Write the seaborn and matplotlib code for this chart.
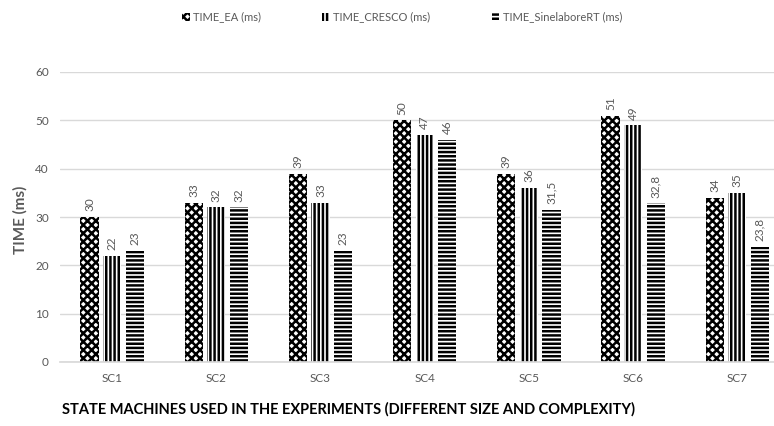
import matplotlib
matplotlib.use("Agg")
import matplotlib.pyplot as plt
from matplotlib.patches import Patch
import seaborn as sns
import pandas as pd

# Execution time per state machine for each code generator
categories = ["SC1", "SC2", "SC3", "SC4", "SC5", "SC6", "SC7"]
series_names = ["TIME_EA (ms)", "TIME_CRESCO (ms)", "TIME_SinelaboreRT (ms)"]
time_ea = [30, 33, 39, 50, 39, 51, 34]
time_cresco = [22, 32, 33, 47, 36, 49, 35]
time_sinelabore = [23, 32, 23, 46, 31.5, 32.8, 23.8]
y_ticks = [0, 10, 20, 30, 40, 50, 60]

sns.set_theme(style="white")
plt.rcParams["font.family"] = ["Lato", "DejaVu Sans"]
plt.rcParams["hatch.linewidth"] = 1.8

df = pd.DataFrame({
    "machine": categories * 3,
    "series": [s for s in series_names for _ in categories],
    "time": time_ea + time_cresco + time_sinelabore,
})

fig = plt.figure(figsize=(7.74, 4.26), dpi=100)
ax = fig.add_axes([60 / 774, 64 / 426, 714 / 774, 290 / 426])

palette = {s: "white" for s in series_names}
sns.barplot(data=df, x="machine", y="time", hue="series", hue_order=series_names,
            palette=palette, width=0.65, gap=0.19, edgecolor="black",
            linewidth=0, legend=False, ax=ax)

hatches = ["xxxx", "||||", "----"]
for container, hatch in zip(ax.containers, hatches):
    for bar in container:
        bar.set_hatch(hatch)
        bar.set_edgecolor("black")
        bar.set_linewidth(0)

def fmt(v):
    return f"{v:g}".replace(".", ",")

for container, vals in zip(ax.containers, [time_ea, time_cresco, time_sinelabore]):
    ax.bar_label(container, labels=[fmt(v) for v in vals], rotation=90,
                 padding=4, color="#595959", fontsize=8.5)

ax.set_ylim(0, 60)
ax.set_xlim(-0.5, -0.5 + 714 / 104.2)
ax.set_yticks(y_ticks)
ax.yaxis.grid(True, color="#d9d9d9", linewidth=1)
ax.set_axisbelow(True)
for side in ["top", "right", "left"]:
    ax.spines[side].set_visible(False)
ax.spines["bottom"].set_color("#d9d9d9")
ax.tick_params(axis="both", length=0, colors="#595959", labelsize=8.5)
ax.tick_params(axis="x", pad=8)
ax.tick_params(axis="y", pad=8)
ax.set_xlabel("")
ax.set_ylabel("")

fig.text(20 / 774, 1 - 220 / 426, "TIME (ms)", rotation=90, ha="center", va="center",
         fontsize=11, fontweight="bold", color="#595959")
fig.text(62 / 774, 1 - 409 / 426,
         "STATE MACHINES USED IN THE EXPERIMENTS (DIFFERENT SIZE AND COMPLEXITY)",
         ha="left", va="center", fontsize=10.5, fontweight="bold", color="black")

handles = [Patch(facecolor="white", edgecolor="black", linewidth=0, hatch=h, label=s)
           for h, s in zip(hatches, series_names)]
fig.legend(handles=handles, loc="center", bbox_to_anchor=(402 / 774, 1 - 17 / 426),
           ncol=3, frameon=False, fontsize=8, labelcolor="#595959",
           handlelength=0.7, handleheight=0.7, handletextpad=0.3, columnspacing=5.5)

fig.savefig("out.png", dpi=100)
